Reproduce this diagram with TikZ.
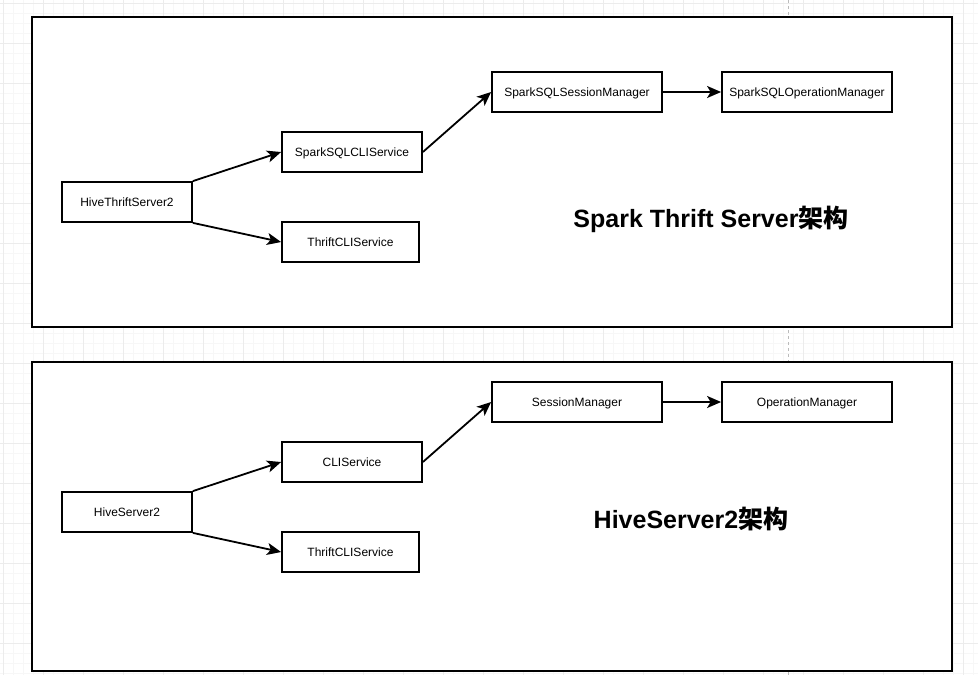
\documentclass[tikz,border=0pt]{standalone}
\usepackage{fontspec}
\setmainfont{Liberation Sans}
\newfontfamily\cjk{Noto Sans CJK SC}
\usetikzlibrary{arrows.meta}
\definecolor{gridminor}{HTML}{F7F7F7}
\definecolor{gridmajor}{HTML}{ECECEC}
\definecolor{pageline}{HTML}{BBBBBB}
\tikzset{
  panel/.style={draw=black, line width=2.2pt, fill=white},
  box/.style={draw=black, line width=1.8pt, fill=white, minimum height=40pt, inner sep=0pt, text height=8.6pt, text depth=0pt, font=\fontsize{12pt}{14pt}\selectfont},
  conn/.style={line width=1.8pt, -{Stealth[length=14pt,width=12pt,inset=3.5pt]}},
  title/.style={font=\fontsize{25pt}{29pt}\selectfont\bfseries, inner sep=0pt}
}
\begin{document}
\begin{tikzpicture}[x=1pt,y=-1pt]
\useasboundingbox (0,0) rectangle (978,675);
\fill[white] (0,0) rectangle (978,675);
\foreach \x in {3,13,...,973} \draw[gridminor, line width=0.8pt] (\x,0) -- (\x,675);
\foreach \y in {3,13,...,673} \draw[gridminor, line width=0.8pt] (0,\y) -- (978,\y);
\foreach \x in {3,43,...,963} \draw[gridmajor, line width=0.8pt] (\x,0) -- (\x,675);
\foreach \y in {3,43,...,643} \draw[gridmajor, line width=0.8pt] (0,\y) -- (978,\y);
\draw[pageline, dashed, dash pattern=on 3pt off 3pt, line width=0.8pt] (788,0) -- (788,675);
% panels
\draw[panel] (32,17) rectangle (952,327);
\draw[panel] (32,362) rectangle (952,671);
% top panel nodes
\node[box, minimum width=130pt] (hts) at (127,202) {HiveThriftServer2};
\node[box, minimum width=140pt] (sscli) at (352,152) {SparkSQLCLIService};
\node[box, minimum width=137pt] (tcli1) at (350.5,242) {ThriftCLIService};
\node[box, minimum width=170pt] (sssm) at (577,92) {SparkSQLSessionManager};
\node[box, minimum width=170pt] (ssom) at (807,92) {SparkSQLOperationManager};
\node[title] (t1) at (711,219) {Spark Thrift Server{\cjk 架构}};
\draw[conn] (hts.north east) -- (sscli.west);
\draw[conn] (hts.south east) -- (tcli1.west);
\draw[conn] (sscli.east) -- (sssm.west);
\draw[conn] (sssm.east) -- (ssom.west);
% bottom panel nodes
\node[box, minimum width=130pt] (hs2) at (127,512) {HiveServer2};
\node[box, minimum width=140pt] (cli) at (352,462) {CLIService};
\node[box, minimum width=137pt] (tcli2) at (350.5,552) {ThriftCLIService};
\node[box, minimum width=170pt] (sm) at (577,402) {SessionManager};
\node[box, minimum width=170pt] (om) at (807,402) {OperationManager};
\node[title] (t2) at (691,519) {HiveServer2{\cjk 架构}};
\draw[conn] (hs2.north east) -- (cli.west);
\draw[conn] (hs2.south east) -- (tcli2.west);
\draw[conn] (cli.east) -- (sm.west);
\draw[conn] (sm.east) -- (om.west);
\end{tikzpicture}
\end{document}
